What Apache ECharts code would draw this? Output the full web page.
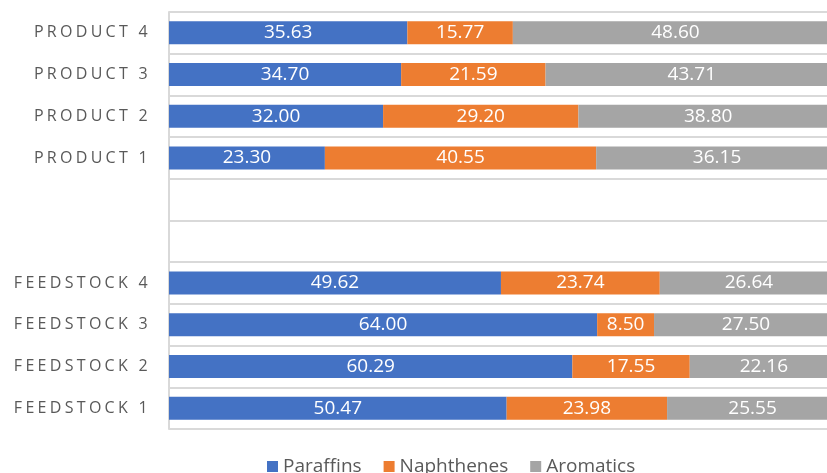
<!DOCTYPE html>
<html>
<head>
<meta charset="utf-8">
<script src="https://cdn.jsdelivr.net/npm/echarts@6/dist/echarts.min.js"></script>
<style>
  html, body { margin: 0; padding: 0; background: #ffffff; }
  #chart { width: 827px; height: 473px; }
</style>
</head>
<body>
<div id="chart"></div>
<script>
// Sample groups, bottom to top; the two blank rows separate feedstocks from products
const categories = ['FEEDSTOCK 1', 'FEEDSTOCK 2', 'FEEDSTOCK 3', 'FEEDSTOCK 4', '', '',
                    'PRODUCT 1', 'PRODUCT 2', 'PRODUCT 3', 'PRODUCT 4'];
const paraffins  = [50.47, 60.29, 64.00, 49.62, null, null, 23.30, 32.00, 34.70, 35.63];
const naphthenes = [23.98, 17.55, 8.50, 23.74, null, null, 40.55, 29.20, 21.59, 15.77];
const aromatics  = [25.55, 22.16, 27.50, 26.64, null, null, 36.15, 38.80, 43.71, 48.60];

const FONT = '"Open Sans", "Noto Sans", sans-serif';

// Category names are drawn with widened letter spacing; everything else uses none
const spacedNames = new Set(categories.filter(c => c));
const proto = CanvasRenderingContext2D.prototype;
const baseFillText = proto.fillText;
proto.fillText = function (text) {
  const want = spacedNames.has(text) ? '3.3px' : '0px';
  if (this.letterSpacing !== want) {
    this.letterSpacing = want;
    this.font = this.font;
  }
  return baseFillText.apply(this, arguments);
};

const chart = echarts.init(document.getElementById('chart'), null, { renderer: 'canvas' });

const valueLabel = {
  show: true,
  position: 'inside',
  color: '#ffffff',
  fontFamily: FONT,
  fontSize: 19,
  formatter: p => (p.value == null ? '' : p.value.toFixed(2))
};

function makeSeries(name, data, color) {
  return {
    name: name,
    type: 'bar',
    stack: 'total',
    data: data,
    barWidth: 23,
    clip: false,
    itemStyle: { color: color },
    label: valueLabel,
    emphasis: { disabled: true }
  };
}

chart.setOption({
  animation: false,
  backgroundColor: '#ffffff',
  grid: {
    left: 169, top: 12, width: 669, height: 417,
    containLabel: false,
    outerBoundsMode: 'none'
  },
  legend: {
    left: 262,
    top: 452,
    itemWidth: 11,
    itemHeight: 11,
    itemGap: 22,
    icon: 'rect',
    textStyle: { color: '#595959', fontFamily: FONT, fontSize: 19 },
    data: ['Paraffins', 'Naphthenes', 'Aromatics']
  },
  xAxis: {
    type: 'value',
    min: 0,
    max: 100,
    show: false,
    splitLine: { show: false }
  },
  yAxis: {
    type: 'category',
    data: categories,
    axisTick: { show: false },
    axisLine: { show: true, lineStyle: { color: '#d9d9d9', width: 2 } },
    splitLine: { show: true, lineStyle: { color: '#d9d9d9', width: 2 } },
    axisLabel: {
      color: '#595959',
      fontFamily: FONT,
      fontSize: 16,
      margin: 18
    }
  },
  series: [
    makeSeries('Paraffins', paraffins, '#4472c4'),
    makeSeries('Naphthenes', naphthenes, '#ed7d31'),
    makeSeries('Aromatics', aromatics, '#a5a5a5')
  ]
});
</script>
</body>
</html>
